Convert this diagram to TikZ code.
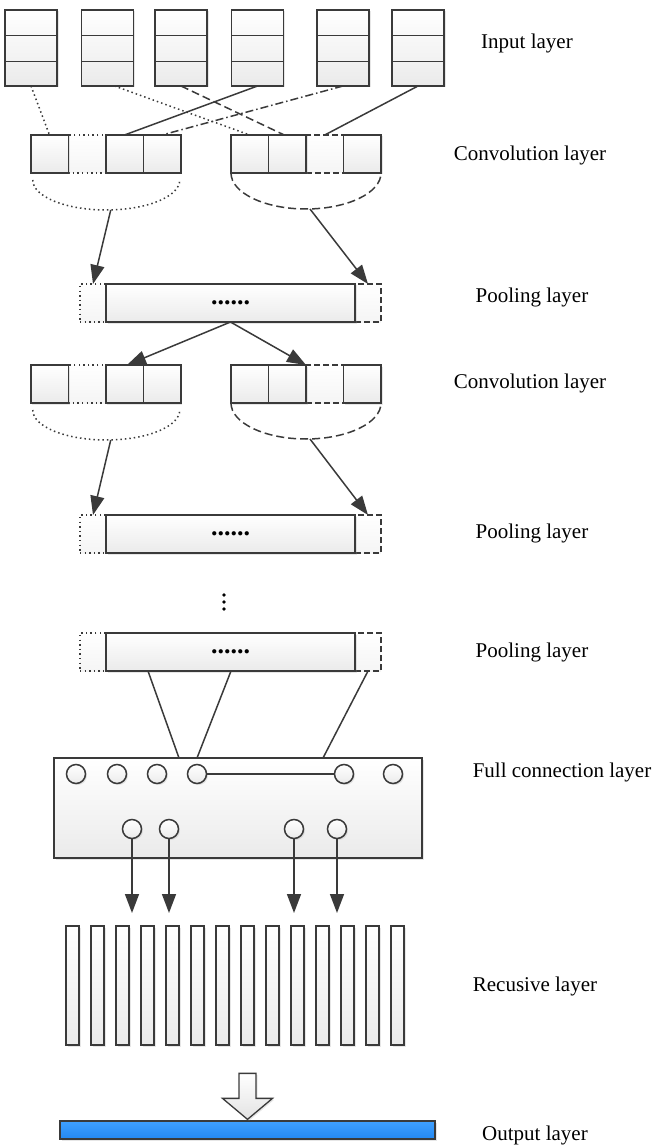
\documentclass[tikz,border=0pt]{standalone}
\usepackage{fontspec}
\setmainfont{Liberation Serif}
\usetikzlibrary{arrows.meta,calc,shadows}
\definecolor{ln}{HTML}{3A3A3A}
\definecolor{blueA}{HTML}{3FA0FF}
\definecolor{blueB}{HTML}{2388F2}
\tikzset{
  shd/.style={drop shadow={shadow xshift=1.5pt,shadow yshift=-1.5pt,opacity=0.22,fill=black!45}},
  base/.style={draw=ln, line width=1.5pt, top color=white, bottom color=gray!16, inner sep=0pt, outer sep=0pt, shd},
  inbox/.style={base, minimum width=52pt, minimum height=76pt},
  cell/.style={base, minimum width=37.5pt, minimum height=38pt},
  dotcell/.style={draw=ln, line width=1.4pt, top color=white, bottom color=gray!8, inner sep=0pt, outer sep=0pt, dash pattern=on 1.4pt off 3.2pt, minimum width=37.5pt, minimum height=38pt},
  dashcell/.style={dotcell, dash pattern=on 6pt off 3pt},
  side/.style={dotcell, minimum width=26pt},
  dashside/.style={dashcell, minimum width=26pt},
  poolmain/.style={base, minimum width=249pt, minimum height=38pt},
  fcbox/.style={base, minimum width=368pt, minimum height=100pt},
  neuron/.style={base, circle, minimum size=19pt},
  bar/.style={base, minimum width=13pt, minimum height=119pt},
  solidline/.style={draw=ln, line width=1.5pt},
  rowline/.style={draw=ln, line width=1.7pt},
  dotline/.style={draw=ln, line width=1.5pt, dash pattern=on 1.5pt off 3pt},
  dashline/.style={draw=ln, line width=1.5pt, dash pattern=on 8pt off 4pt},
  dashdotline/.style={draw=ln, line width=1.5pt, dash pattern=on 8pt off 3pt on 1.5pt off 3pt},
  arr/.style={draw=ln, line width=1.5pt, -{Triangle[length=19pt,width=14pt]}},
  lbl/.style={font=\fontsize{21}{25}\selectfont, inner sep=0pt, text=black},
  ddots/.style={font=\fontsize{26}{26}\selectfont\bfseries, inner sep=0pt}
}
\begin{document}
\begin{tikzpicture}[x=1pt,y=-1pt]
\useasboundingbox (0,0) rectangle (657,1147);

% ---------- input layer ----------
\foreach \n/\x in {1/31,2/107.5,3/181,4/257.5,5/343,6/418}{
  \node[inbox] (in\n) at (\x,48) {};
  \draw[rowline] ($(in\n.north west)+(0,25.5)$) -- ($(in\n.north east)+(0,25.5)$)
                 ($(in\n.north west)+(0,51.5)$) -- ($(in\n.north east)+(0,51.5)$);
}

% ---------- convolution layers ----------
\foreach \r/\y in {a/154,b/384}{
  \node[dotcell]  (c\r2) at (87,\y) {};
  \node[dashcell] (c\r7) at (324.75,\y) {};
  \foreach \i/\x in {1/49.5,3/124.5,4/162,5/249.75,6/287.25,8/362.25}{
    \node[cell] (c\r\i) at (\x,\y) {};
  }
}

% ---------- pooling layers ----------
\foreach \k/\y in {1/303,2/534,3/652}{
  \node[side] (p\k l) at (93,\y) {};
  \node[dashside] (p\k r) at (368,\y) {};
  \node[poolmain] (p\k m) at (230.5,\y) {};
  \node[ddots] at (p\k m.center) {......};
}

% ---------- input -> convolution ----------
\draw[dotline] (in1.south) -- (ca1.north);
\draw[dotline] ($(in2.south)+(7,0)$) -- (ca5.north);
\draw[dashline] (in3.south) -- ($(ca6.north)+(-3,0)$);
\draw[solidline] (in4.south) -- (ca3.north);
\draw[dashdotline] (in5.south) -- (ca4.north);
\draw[solidline] (in6.south) -- (ca7.north);

% ---------- convolution -> pooling ----------
\foreach \r/\k in {a/1,b/2}{
  \draw[dotline] ($(c\r1.south west)+(2,7)$) arc[start angle=180,end angle=360,x radius=73.5pt,y radius=30pt];
  \coordinate (la\k) at ($(c\r1.south west)+(80,37)$);
  \draw[dashline] (c\r5.south west) arc[start angle=180,end angle=360,x radius=75pt,y radius=36pt];
  \coordinate (ra\k) at ($(c\r5.south west)+(79,36)$);
  \draw[arr] (la\k) -- (p\k l.north);
  \draw[arr] (ra\k) -- (p\k r.north);
}

% ---------- pooling 1 -> convolution 2 ----------
\draw[arr] (p1m.south) -- ($(cb3.north)+(2.5,0)$);
\draw[arr] (p1m.south) -- (cb6.north east);

% ---------- vertical ellipsis ----------
\foreach \yy in {595,602,609}{ \fill[black] (224,\yy) circle[radius=1.9pt]; }

% ---------- full connection layer ----------
\node[fcbox] (fc) at (238,808) {};
\foreach \n/\x in {1/76,2/117,3/157,4/197,5/344,6/393}{ \node[neuron] (t\n) at (\x,774) {}; }
\foreach \n/\x in {1/132,2/169,3/294,4/337}{ \node[neuron] (b\n) at (\x,829) {}; }
\draw[solidline] (t4.east) -- (t5.west);

\draw[solidline] ($(p3m.south west)+(42,0)$) -- ($(fc.north west)+(125,0)$);
\draw[solidline] ($(p3m.south west)+(125,0)$) -- (t4 |- fc.north);
\draw[solidline] (p3r.south) -- ($(fc.north west)+(269,0)$);

% ---------- recursive layer ----------
\foreach \i in {0,...,13}{ \node[bar] (r\i) at ({72.5+25*\i},985.5) {}; }
\coordinate (rtop) at ($(r0.north)+(0,-13)$);
\foreach \n in {1,2,3,4}{ \draw[arr] (b\n.south) -- (b\n.south |- rtop); }

% ---------- output layer ----------
\node[draw=ln, line width=1.3pt, minimum width=375pt, minimum height=18pt, inner sep=0pt,
      top color=blueA, bottom color=blueB, shd] (out) at (247.5,1130) {};
\draw[draw=ln, line width=1.3pt, top color=white, bottom color=gray!22, shd]
  ($(out.north)+(-8.5,-47)$) -- ($(out.north)+(8.5,-47)$) -- ($(out.north)+(8.5,-22)$) --
  ($(out.north)+(25,-22)$) -- ($(out.north)+(0,-1)$) -- ($(out.north)+(-25,-22)$) --
  ($(out.north)+(-8.5,-22)$) -- cycle;

% ---------- labels ----------
\node[lbl] (L1) at (527,43) {Input layer};
\node[lbl] (L2) at (530,155) {Convolution layer};
\node[lbl] (L3) at (532,297) {Pooling layer};
\node[lbl] (L4) at (530,383) {Convolution layer};
\node[lbl] (L5) at (532,533) {Pooling layer};
\node[lbl] (L6) at (532,652) {Pooling layer};
\node[lbl] (L7) at (562,772) {Full connection layer};
\node[lbl] (L8) at (535,986) {Recusive layer};
\node[lbl] (L9) at (535,1135) {Output layer};
\end{tikzpicture}
\end{document}
